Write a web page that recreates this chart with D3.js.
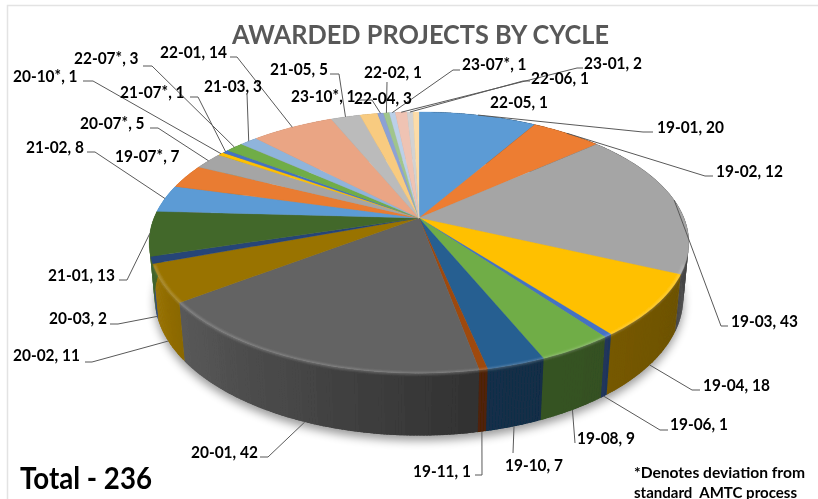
<!DOCTYPE html>
<html><head><meta charset="utf-8">
<script src="https://cdn.jsdelivr.net/npm/d3@7/dist/d3.min.js"></script>
<style>html,body{margin:0;background:#fff}svg{display:block}text{font-family:Lato,"Open Sans",sans-serif;font-weight:700}</style>
</head><body><svg id="c" width="818" height="499"></svg>
<script>
// Data, clockwise from 12 o'clock
const cycles = ["19-01","19-02","19-03","19-04","19-06","19-08","19-10","19-11","20-01","20-02","20-03","21-01","21-02","19-07*","20-07*","20-10*","21-07*","22-07*","21-03","22-01","21-05","22-04","23-10*","22-02","23-07*","23-01","22-06","22-05"];
const awarded = [20,12,43,18,1,9,7,1,42,11,2,13,8,7,5,1,1,3,3,14,5,3,1,1,1,2,1,1];
const sliceColors = ["#5B9BD5","#ED7D31","#A5A5A5","#FFC000","#4472C4","#70AD47","#255E91","#9E480E","#636363","#997300","#264478","#43682B","#5B9BD5","#E97C30","#A5A5A5","#FFC000","#4472C4","#70AD47","#8FB4DB","#EAA584","#BBBBBB","#F8CB80","#8CA1D5","#A0C58C","#BBD0E8","#EFC3B3","#D2D2D2","#FCDCA8"];
const titleText = "AWARDED PROJECTS BY CYCLE";
const totalText = "Total - 236";
const noteLines = ["*Denotes deviation from","standard  AMTC process"];

// Layout (label left x, label centre y), leader elbow points, and whether the leader lands on the lower rim
const labelPos = [[657,127],[716,171],[731,321],[703,385],[670,424],[577,438],[505,465],[413,471],[191,452],[13,355],[49,318],[48,275],[26,147],[115,156],[80,123],[13,76],[120,92],[74,58],[204,86],[160,52],[270,69],[354,98],[291,96],[364,72],[462,64],[584,63],[531,78],[490,102]];
const leaderPts = [[[653,132],[643,132]],[[713,176],[705,176]],[[728,326],[721,326]],[[700,390],[692,390]],[[668,430],[660,430]],[[575,443]],[[513,453]],[[475,475],[482,475]],[[260,457],[268,457]],[[85,362],[92,362]],[[110,324],[118,324]],[[119,280],[127,280]],[[87,152],[95,152]],null,[[150,128],[158,128]],[[83,81],[93,81]],[[190,97],[198,97]],[[143,66],[152,66]],[[247,94]],[[230,57],[237,57]],[[330,74],[339,74]],null,[[357,100],[372,100]],[[387,82]],[[460,70],[453,70]],[[583,68],[577,68]],[[530,81],[523,81]],null];
const lowerRim = new Set(["19-04","19-06","19-08","19-10","19-11","20-01","20-02","20-03"]);

const svg = d3.select("#c");
const cx=419, cy=218, A=265, B=126, P=0.188, Q=0.02, D=55;
function proj(deg,t=0,r=1,dy=0){
  const a=deg*Math.PI/180, X=Math.sin(a)*r, Z=Math.cos(a)*r, w=1+P*Z+Q*t;
  return [cx+A*X/w, cy+(-B*Z+D*t)/w+dy];
}
const line=d3.line();
const toDeg=d3.scaleLinear().domain([0,2*Math.PI]).range([0,360]);
const arcs=d3.pie().sort(null).startAngle(0).endAngle(2*Math.PI)(awarded).map((d,i)=>({i,a0:toDeg(d.startAngle),a1:toDeg(d.endAngle),color:sliceColors[i],name:cycles[i],value:awarded[i]}));
const lightAt=d3.scaleLinear().domain([60,110,170,225,245,275,300]).range([.3,.42,.5,.85,.98,.95,.8]).clamp(true);

const defs=svg.append("defs");
const mkBlur=(id,sd)=>defs.append("filter").attr("id",id).attr("x","-20%").attr("y","-20%").attr("width","140%").attr("height","140%").append("feGaussianBlur").attr("stdDeviation",sd);
mkBlur("sh",5);mkBlur("soft",1.3);
defs.append("filter").attr("id","scan").attr("filterUnits","userSpaceOnUse").attr("x",0).attr("y",0).attr("width",818).attr("height",499).append("feGaussianBlur").attr("stdDeviation",.35);
const root=svg.append("g").attr("filter","url(#scan)");

// frame
root.append("path").attr("d","M7.5 499V5.5H818").attr("fill","none").attr("stroke","#e3e3e3").attr("stroke-width",1.5);

// shadow
const ring=d3.range(0,361,2);
root.append("path").attr("d",line(ring.map(a=>proj(a,1,1,5)))+"Z").attr("fill","#000").attr("opacity",.4).attr("filter","url(#sh)");

// wall: each strip overlaps the next so no seams show
const wall=root.append("g");
arcs.forEach(s=>{
  const n=Math.max(1,Math.ceil((s.a1-s.a0)/.6));
  for(let k=0;k<n;k++){
    const a=s.a0+(s.a1-s.a0)*k/n,b=s.a0+(s.a1-s.a0)*(k+1)/n,b2=k<n-1?b+.5:b+.15;
    const c=d3.rgb(s.color);const f=lightAt((a+b)/2);
    const col=d3.rgb(c.r*f,c.g*f,c.b*f).formatHex();
    wall.append("path").attr("d",line([proj(a,0),proj(b2,0),proj(b2,1),proj(a,1)])+"Z").attr("fill",col);
  }
});

// top face
root.append("g").selectAll("path").data(arcs).join("path")
 .attr("d",s=>{const n=Math.max(2,Math.ceil(s.a1-s.a0));
   return line([[cx,cy],...d3.range(n+1).map(k=>proj(s.a0+(s.a1-s.a0)*k/n))])+"Z";})
 .attr("fill",s=>s.color).attr("stroke",s=>s.color).attr("stroke-width",.3);

// bevel highlight along the near rim
root.append("path").attr("d",line(d3.range(110,252,2).map(a=>proj(a,.02,.995))))
 .attr("fill","none").attr("stroke","#fff").attr("stroke-opacity",.22).attr("stroke-width",2.5).attr("filter","url(#soft)");

// leaders
root.append("g").selectAll("path").data(arcs.filter(s=>leaderPts[s.i])).join("path")
 .attr("d",s=>line([...leaderPts[s.i],proj((s.a0+s.a1)/2,lowerRim.has(s.name)?1:0)]))
 .attr("fill","none").attr("stroke","#595959").attr("stroke-width",1);

// labels (narrowed to the width of the original's condensed face)
const narrow=sel=>sel.attr("lengthAdjust","spacingAndGlyphs").each(function(){this.setAttribute("textLength",this.getComputedTextLength()*.92);});
root.append("g").selectAll("text").data(arcs).join("text")
 .attr("x",s=>labelPos[s.i][0]).attr("y",s=>labelPos[s.i][1]+6)
 .attr("font-size",16.8).attr("fill","#000")
 .text(s=>`${s.name}, ${s.value}`).call(narrow);

root.append("text").attr("x",232).attr("y",44).attr("font-size",27.5).attr("fill","#595959").attr("textLength",377).attr("lengthAdjust","spacingAndGlyphs").text(titleText);
root.append("text").attr("x",20).attr("y",489).attr("font-size",30).attr("fill","#000").attr("textLength",132).attr("lengthAdjust","spacingAndGlyphs").text(totalText);
const noteWidths=[171,163];
root.append("g").selectAll("text").data(noteLines).join("text").attr("x",634).attr("y",(d,i)=>478+i*19.5).attr("font-size",15.5).attr("fill","#000").attr("textLength",(d,i)=>noteWidths[i]).attr("lengthAdjust","spacingAndGlyphs").style("white-space","pre").text(d=>d);
</script></body></html>
